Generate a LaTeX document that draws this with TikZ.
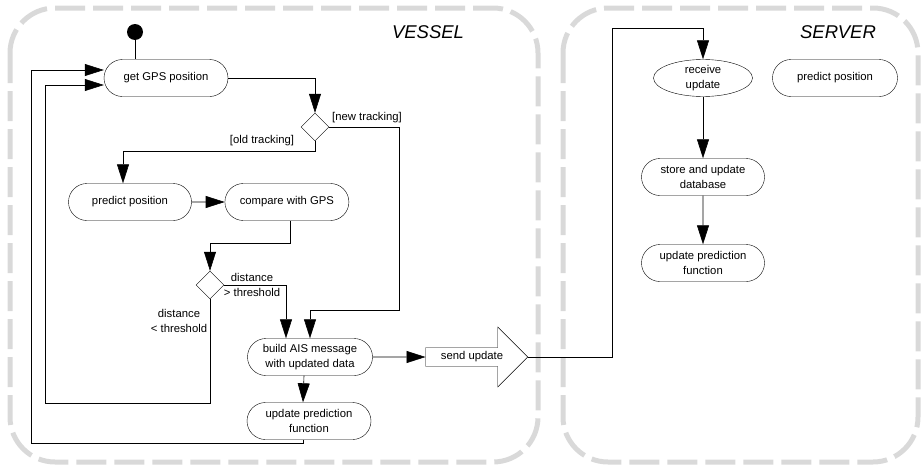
\documentclass[tikz,border=0pt]{standalone}
\usepackage{fontspec}
\setmainfont{Liberation Sans}
\usetikzlibrary{arrows.meta,positioning,shapes.misc,shapes.geometric,shapes.arrows}

\begin{document}
\begin{tikzpicture}[
    x=1pt, y=-1pt,
    font=\fontsize{11.3}{15}\selectfont,
    lane/.style={
        draw=black!15,
        line width=5pt,
        dash pattern=on 30pt off 8pt,
        rounded corners=45pt
    },
    lanename/.style={font=\fontsize{18.5}{20}\selectfont\itshape},
    act/.style={
        draw,
        rounded rectangle,
        minimum width=128pt,
        minimum height=37pt,
        inner sep=2pt,
        align=center
    },
    choice/.style={draw, diamond, minimum width=28pt, minimum height=28pt, inner sep=0pt},
    guard/.style={align=center, inner sep=0pt},
    arrow/.style={-{Triangle[length=19pt, width=12pt]}, semithick}
]
\useasboundingbox (0,0) rectangle (922,466);

% swimlanes
\draw[lane] (10,8) rectangle (538,462);
\draw[lane] (563,8) rectangle (918,462);
\node[lanename] (vessel) at (428,32) {VESSEL};
\node[lanename] (server) at (838,32) {SERVER};

% vessel side
\node[circle, fill=black, minimum size=16pt, inner sep=0pt] (start) at (135,32) {};
\node[act] (gps) at (166,78) {get GPS position};
\node[choice] (d1) at (315,127) {};
\node[act, minimum width=127pt] (pred) at (130,202) {predict position};
\node[act, right=33pt of pred] (cmp) {compare with GPS};
\node[choice] (d2) at (210,285) {};
\node[act, minimum width=129pt] (ais) at (310,357) {build AIS message\\with updated data};
\node[act] (upd) at (309,421) {update prediction\\function};
\node[draw, single arrow, single arrow head extend=20.5pt, minimum height=102pt,
      inner ysep=4pt] (send) at (472,357) {send update};

\node[guard] (newtrk) at (367,118) {[new tracking]};
\node[guard] (oldtrk) at (262,141) {[old tracking]};
\node[guard] (far) at (252,284.5) {distance\\> threshold};
\node[guard] (near) at (179,321) {distance\\< threshold};

% server side
\node[draw, ellipse, minimum width=99pt, minimum height=37pt, inner sep=0pt,
      align=center] (recv) at (703,78) {receive\\update};
\node[act, minimum width=129pt] (spred) at (835,78) {predict position};
\node[act, minimum width=127pt] (store) at (703,177) {store and update\\database};
\node[act, minimum width=127pt] (supd) at (703,263) {update prediction\\function};

\coordinate (loopA) at (45,403);
\coordinate (loopB) at (31,443);
\coordinate (hop) at (612,28);

\draw[semithick] (start) -- (start |- gps.north);
\draw[arrow] (gps.east) -| (d1.north);
\draw[arrow] (d1.east) -- ++(70,0) |- ([yshift=28pt]ais.north) -- (ais.north);
\draw[arrow] (d1.south) -- ++(0,10) -| ([xshift=-7pt]pred.north);
\draw[arrow] (pred) -- (cmp);
\draw[arrow] ([xshift=3pt]cmp.south) -- ++(0,23) -| (d2.north);
\draw[arrow] (d2.east) -| ([xshift=-24pt]ais.north);
\draw[arrow] (d2.south) |- (loopA) |- ([yshift=-7pt]gps.west);
\draw[arrow] ([xshift=-6pt]upd.south) |- (loopB) |- ([yshift=8pt]gps.west);
\draw[arrow] ([xshift=-6pt]ais.south) -- ([xshift=-6pt]upd.north);
\draw[arrow] (ais) -- (send);
\draw[arrow] (send.tip) -| (hop) -| (recv.north);
\draw[arrow] (recv) -- (store);
\draw[arrow] (store) -- (supd);
\end{tikzpicture}
\end{document}
